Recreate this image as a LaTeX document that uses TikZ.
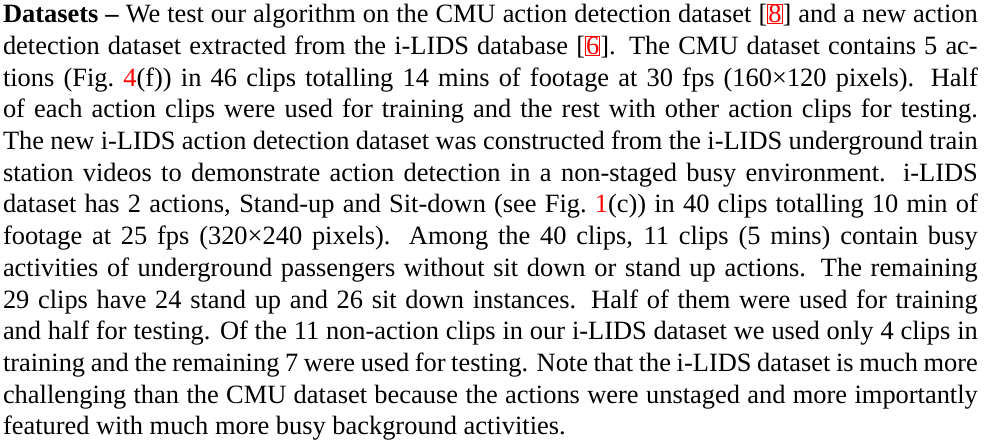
\documentclass[tikz,border=0pt]{standalone}
\usepackage{fontspec}
\setmainfont{Liberation Serif}
\usetikzlibrary{positioning}

% citation number with a link frame round it
\newcommand{\citebox}[1]{{\color{red}\setlength{\fboxsep}{0pt}\setlength{\fboxrule}{0.4pt}\fbox{#1}}}
% figure reference in red
\newcommand{\figref}[1]{\textcolor{red}{#1}}
\newlength{\linew}
\setlength{\linew}{369pt}

\tikzset{
  textline/.style={anchor=base west, inner sep=0pt, outer sep=0pt, font=\fontsize{10pt}{12pt}\selectfont},
}

\begin{document}
\begin{tikzpicture}[x=1pt,y=1pt]
  \useasboundingbox (0,0) rectangle (377.8,-167.7);
  \node[textline] (l1)  at (1.14,-8.6)   {\hbox to \linew{\textbf{Datasets –} We test our algorithm on the CMU action detection dataset [\citebox{8}] and a new action}};
  \node[textline] (l2)  at (1.14,-20.6)  {\hbox to \linew{detection dataset extracted from the i-LIDS database [\citebox{6}]. The CMU dataset contains 5 ac-}};
  \node[textline] (l3)  at (1.14,-32.6)  {\hbox to \linew{tions (Fig.\ \figref{4}(f)) in 46 clips totalling 14 mins of footage at 30 fps (160×120 pixels). Half}};
  \node[textline] (l4)  at (1.14,-44.6)  {\hbox to \linew{of each action clips were used for training and the rest with other action clips for testing.}};
  \node[textline] (l5)  at (1.14,-56.6)  {\hbox to \linew{The new i-LIDS action detection dataset was constructed from the i-LIDS underground train}};
  \node[textline] (l6)  at (1.14,-68.6)  {\hbox to \linew{station videos to demonstrate action detection in a non-staged busy environment. i-LIDS}};
  \node[textline] (l7)  at (1.14,-80.6)  {\hbox to \linew{dataset has 2 actions, Stand-up and Sit-down (see Fig.\ \figref{1}(c)) in 40 clips totalling 10 min of}};
  \node[textline] (l8)  at (1.14,-92.6)  {\hbox to \linew{footage at 25 fps (320×240 pixels). Among the 40 clips, 11 clips (5 mins) contain busy}};
  \node[textline] (l9)  at (1.14,-104.6) {\hbox to \linew{activities of underground passengers without sit down or stand up actions. The remaining}};
  \node[textline] (l10) at (1.14,-116.6) {\hbox to \linew{29 clips have 24 stand up and 26 sit down instances. Half of them were used for training}};
  \node[textline] (l11) at (1.14,-128.6) {\hbox to \linew{and half for testing. Of the 11 non-action clips in our i-LIDS dataset we used only 4 clips in}};
  \node[textline] (l12) at (1.14,-140.6) {\hbox to \linew{training and the remaining 7 were used for testing. Note that the i-LIDS dataset is much more}};
  \node[textline] (l13) at (1.14,-152.6) {\hbox to \linew{challenging than the CMU dataset because the actions were unstaged and more importantly}};
  \node[textline] (l14) at (1.14,-164.6) {featured with much more busy background activities.};
\end{tikzpicture}
\end{document}
